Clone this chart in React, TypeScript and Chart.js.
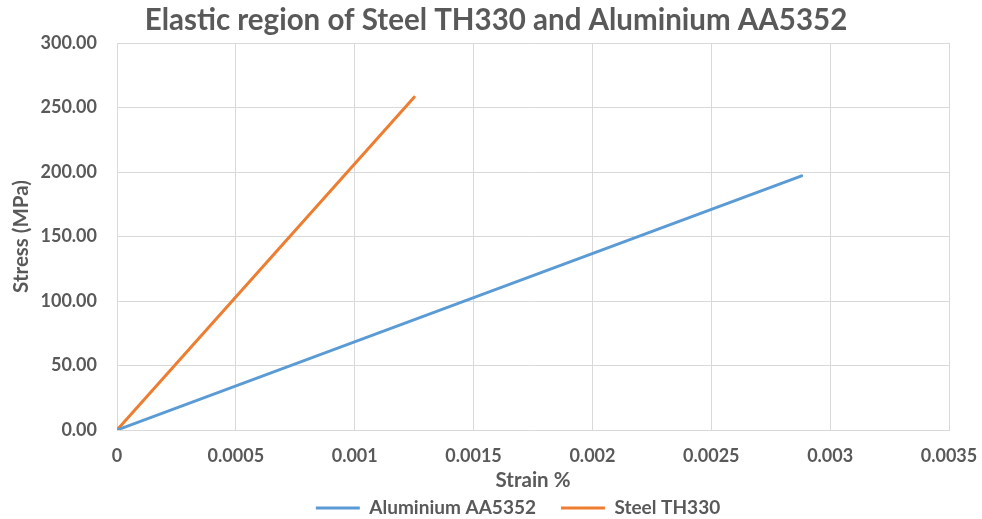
import React, { useEffect, useRef } from "react";
import { Chart, registerables } from "chart.js";

Chart.register(...registerables);

// Measured elastic-region data (strain, stress in MPa)
const aluminiumStrain = [0, 0.00288];
const aluminiumStress = [0, 197];
const steelStrain = [0, 0.00125];
const steelStress = [0, 258];

// Axis ticks
const strainTicks = [0, 0.0005, 0.001, 0.0015, 0.002, 0.0025, 0.003, 0.0035];
const strainTickLabels = ["0", "0.0005", "0.001", "0.0015", "0.002", "0.0025", "0.003", "0.0035"];
const stressTicks = [0, 50, 100, 150, 200, 250, 300];
const stressTickLabels = ["0.00", "50.00", "100.00", "150.00", "200.00", "250.00", "300.00"];

const seriesNames = ["Aluminium AA5352", "Steel TH330"];
const titleText = "Elastic region of Steel TH330 and Aluminium AA5352";
const xTitle = "Strain %";
const yTitle = "Stress (MPa)";

const FONT = "Lato, 'Open Sans', sans-serif";
const TEXT = "#595959";
const GRID = "#d9d9d9";

const toPoints = (xs: number[], ys: number[]) => xs.map((x, i) => ({ x, y: ys[i] }));

// Nudges the title and legend blocks after Chart.js has laid them out
const boxShift = {
  id: "boxShift",
  afterLayout(chart: any) {
    const lg = chart.legend;
    if (lg) {
      lg.left += 43.5;
      lg.right += 43.5;
      lg.top -= 23.5;
    }
    const t = chart.titleBlock;
    if (t) {
      t.left += 21.5;
      t.right += 21.5;
    }
  },
};

export default function App() {
  const ref = useRef<HTMLCanvasElement>(null);

  useEffect(() => {
    if (!ref.current) return;
    const chart = new Chart(ref.current, {
      type: "line",
      data: {
        datasets: [
          {
            label: seriesNames[0],
            data: toPoints(aluminiumStrain, aluminiumStress),
            borderColor: "#5B9BD5",
            backgroundColor: "#5B9BD5",
            borderWidth: 3,
            borderCapStyle: "round",
            pointRadius: 0,
            tension: 0,
          },
          {
            label: seriesNames[1],
            data: toPoints(steelStrain, steelStress),
            borderColor: "#ED7D31",
            backgroundColor: "#ED7D31",
            borderWidth: 3,
            borderCapStyle: "round",
            pointRadius: 0,
            tension: 0,
          },
        ],
      },
      options: {
        responsive: false,
        animation: false,
        devicePixelRatio: 1,
        layout: { padding: { left: 0, right: 33, top: 0, bottom: 0 } },
        plugins: {
          title: {
            display: true,
            text: titleText,
            color: TEXT,
            font: { family: FONT, size: 29.5, weight: "bold" },
            padding: { top: 3, bottom: 4.6 },
          },
          legend: {
            position: "bottom",
            maxHeight: 22,
            labels: {
              usePointStyle: true,
              pointStyle: "line",
              pointStyleWidth: 44,
              padding: 25,
              color: TEXT,
              font: { family: FONT, size: 19, weight: "bold" },
            },
          },
          tooltip: { enabled: false },
        },
        scales: {
          x: {
            type: "linear",
            min: 0,
            max: 0.0035,
            afterBuildTicks: (scale: any) => {
              scale.ticks = strainTicks.map((v) => ({ value: v }));
            },
            afterFit: (scale: any) => {
              scale.height = 67;
              scale.paddingLeft = 0;
              scale.paddingRight = 0;
            },
            ticks: {
              padding: 15,
              color: TEXT,
              font: { family: FONT, size: 18, weight: "bold" },
              maxRotation: 0,
              callback: (_v: any, i: number) => strainTickLabels[i],
            },
            grid: { color: GRID, lineWidth: 1, drawTicks: false },
            border: { color: GRID, width: 1 },
            title: {
              display: true,
              text: xTitle,
              color: TEXT,
              font: { family: FONT, size: 20.5, weight: "bold" },
              padding: { top: 0, bottom: 4.7 },
            },
          },
          y: {
            type: "linear",
            min: 0,
            max: 300,
            afterBuildTicks: (scale: any) => {
              scale.ticks = stressTicks.map((v) => ({ value: v }));
            },
            afterFit: (scale: any) => {
              scale.width = 117;
            },
            ticks: {
              padding: 20,
              color: TEXT,
              font: { family: FONT, size: 18, weight: "bold" },
              callback: (_v: any, i: number) => stressTickLabels[i],
            },
            grid: { color: GRID, lineWidth: 1, drawTicks: false },
            border: { color: GRID, width: 1 },
            title: {
              display: true,
              text: yTitle,
              color: TEXT,
              font: { family: FONT, size: 20.5, weight: "bold" },
              padding: { top: 9.5, bottom: 0 },
            },
          },
        },
      },
      plugins: [boxShift],
    });
    return () => chart.destroy();
  }, []);

  return (
    <div style={{ position: "absolute", left: 0, top: 0, width: 982, height: 519, background: "#fff" }}>
      <canvas ref={ref} width={982} height={519} />
    </div>
  );
}
